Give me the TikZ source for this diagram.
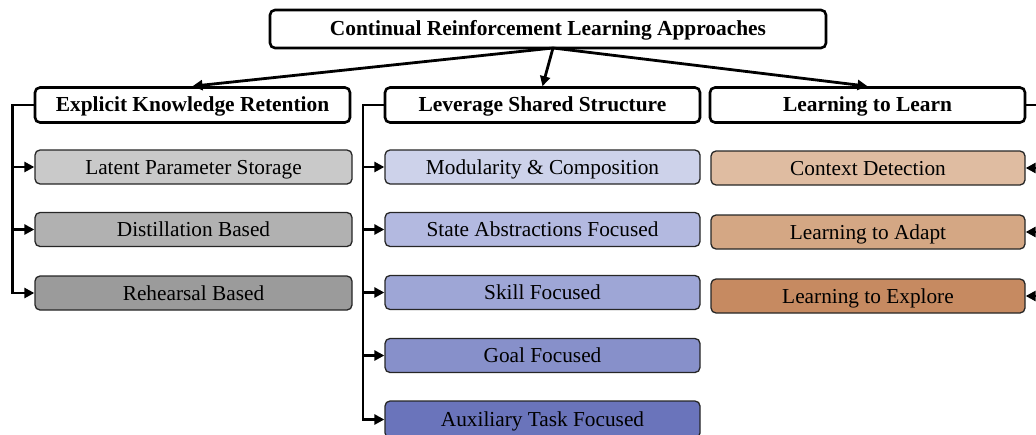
\documentclass[tikz,border=0pt]{standalone}
\usepackage{fontspec}
\setmainfont{Liberation Serif}
\usetikzlibrary{arrows.meta}
\definecolor{gA}{HTML}{C9C9C9}
\definecolor{gB}{HTML}{B1B1B1}
\definecolor{gC}{HTML}{9B9B9B}
\definecolor{bA}{HTML}{CDD2EA}
\definecolor{bB}{HTML}{B3B9E0}
\definecolor{bC}{HTML}{9EA6D6}
\definecolor{bD}{HTML}{8790CA}
\definecolor{bE}{HTML}{6A74BB}
\definecolor{rA}{HTML}{DFBCA1}
\definecolor{rB}{HTML}{D4A784}
\definecolor{rC}{HTML}{C68A61}
\tikzset{
  headbox/.style={draw=black, line width=2.6pt, rounded corners=5pt, fill=white,
    inner sep=0pt, minimum height=35pt, text height=17.5pt, text depth=4.5pt,
    font=\fontsize{21.4}{24}\selectfont\bfseries},
  leafbox/.style={draw=black!85, line width=1.3pt, rounded corners=5pt,
    inner sep=0pt, minimum height=34pt, text height=19pt, text depth=4.5pt,
    font=\fontsize{21.3}{24}\selectfont},
  conn/.style={line width=2.8pt, -{Triangle[length=10pt,width=10pt]}},
}
\begin{document}
\begin{tikzpicture}[x=1pt,y=-1pt]
\useasboundingbox (0,0) rectangle (1036,434);
% root
\node[headbox, minimum width=556pt, minimum height=38pt] (root) at (548,29) {Continual Reinforcement Learning Approaches};
% categories
\node[headbox, minimum width=315pt] (ekr) at (192.5,105) {Explicit Knowledge Retention};
\node[headbox, minimum width=315pt] (lss) at (542.5,105) {Leverage Shared Structure};
\node[headbox, minimum width=315pt] (ltl) at (867.5,105) {Learning to Learn};
% left leaves
\node[leafbox, fill=gA, minimum width=317pt] (l1) at (193.5,167) {Latent Parameter Storage};
\node[leafbox, fill=gB, minimum width=317pt] (l2) at (193.5,229.5) {Distillation Based};
\node[leafbox, fill=gC, minimum width=317pt] (l3) at (193.5,293) {Rehearsal Based};
% middle leaves
\node[leafbox, fill=bA, minimum width=315pt] (m1) at (542.5,167) {Modularity \& Composition};
\node[leafbox, fill=bB, minimum width=315pt] (m2) at (542.5,229.5) {State Abstractions Focused};
\node[leafbox, fill=bC, minimum width=315pt] (m3) at (542.5,292.5) {Skill Focused};
\node[leafbox, fill=bD, minimum width=315pt] (m4) at (542.5,355.5) {Goal Focused};
\node[leafbox, fill=bE, minimum width=315pt, minimum height=37pt] (m5) at (542.5,419.5) {Auxiliary Task Focused};
% right leaves
\node[leafbox, fill=rA, minimum width=314pt] (r1) at (868,168) {Context Detection};
\node[leafbox, fill=rB, minimum width=314pt] (r2) at (868,232) {Learning to Adapt};
\node[leafbox, fill=rC, minimum width=314pt] (r3) at (868,296) {Learning to Explore};
% bar coordinates
\coordinate (barL) at (12.5,0);
\coordinate (barM) at (363,0);
\coordinate (barR) at (1046,0);
\coordinate (hub) at (553,48);
% root connectors
\draw[conn] (hub) -- (ekr.north);
\draw[conn] (hub) -- (lss.north);
\draw[conn] (hub) -- (ltl.north);
% left tree
\foreach \c in {l1,l2,l3}{
  \draw[conn] (ekr.west) -- (ekr.west -| barL) |- (\c.west);
}
% middle tree
\foreach \c in {m1,m2,m3,m4,m5}{
  \draw[conn] (lss.west) -- (lss.west -| barM) |- (\c.west);
}
% right tree
\foreach \c in {r1,r2,r3}{
  \draw[conn] (ltl.east) -- (ltl.east -| barR) |- (\c.east);
}
\end{tikzpicture}
\end{document}
